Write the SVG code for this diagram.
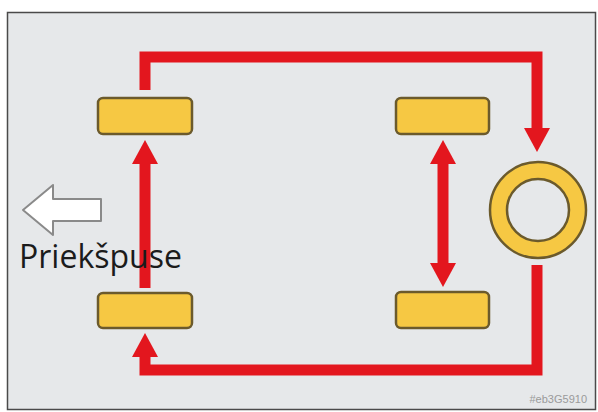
<svg xmlns="http://www.w3.org/2000/svg" width="598" height="412" viewBox="0 0 598 412">
<style>
.tire{fill:#f6c843;stroke:#6b5a2c;stroke-width:2.5}
.flow{fill:none;stroke:#e3161e;stroke-width:11;stroke-linejoin:miter}
.lbl{font-family:"Open Sans","Liberation Sans",sans-serif;fill:#1b1b1b}
</style>
<defs>
<marker id="ah" markerUnits="userSpaceOnUse" markerWidth="26" markerHeight="26" viewBox="0 0 24 26" refX="0" refY="13" orient="auto-start-reverse">
<path d="M0,0 L24,13 L0,26 Z" fill="#e3161e"/>
</marker>
</defs>
<rect x="0" y="0" width="598" height="412" fill="#ffffff"/>
<rect x="7.5" y="12.5" width="588" height="397" fill="#e6e8ea" stroke="#4a4a4a" stroke-width="1.5"/>
<g id="connectors">
<path class="flow" d="M145,90 V57 H537 V128" marker-end="url(#ah)"/>
<path class="flow" d="M145,288 V164" marker-end="url(#ah)"/>
<path class="flow" d="M537,265 V370 H145 V357" marker-end="url(#ah)"/>
<path class="flow" d="M443,164 V263" marker-start="url(#ah)" marker-end="url(#ah)"/>
</g>
<g id="tire-front-left"><rect class="tire" x="98" y="98" width="94" height="36" rx="5"/></g>
<g id="tire-rear-left"><rect class="tire" x="396" y="98" width="93" height="36" rx="5"/></g>
<g id="tire-front-right"><rect class="tire" x="98" y="293" width="94" height="35" rx="5"/></g>
<g id="tire-rear-right"><rect class="tire" x="396" y="292" width="93" height="36" rx="5"/></g>
<g id="spare-tire">
<circle cx="538" cy="210" r="48" fill="#f6c843" stroke="#6b5a2c" stroke-width="2.5"/>
<circle cx="538" cy="210" r="31" fill="#e6e8ea" stroke="#6b5a2c" stroke-width="2.5"/>
</g>
<g id="front-indicator">
<path d="M23,210 L53,185 L53,199 L101,199 L101,221 L53,221 L53,235 Z" fill="#ffffff" stroke="#8a8a8a" stroke-width="2" stroke-linejoin="round"/>
<text class="lbl" x="19" y="268" font-size="32">Priekšpuse</text>
</g>
<text x="587" y="403" text-anchor="end" font-family="Liberation Sans,sans-serif" font-size="11" fill="#9a9a9a">#eb3G5910</text>
</svg>
